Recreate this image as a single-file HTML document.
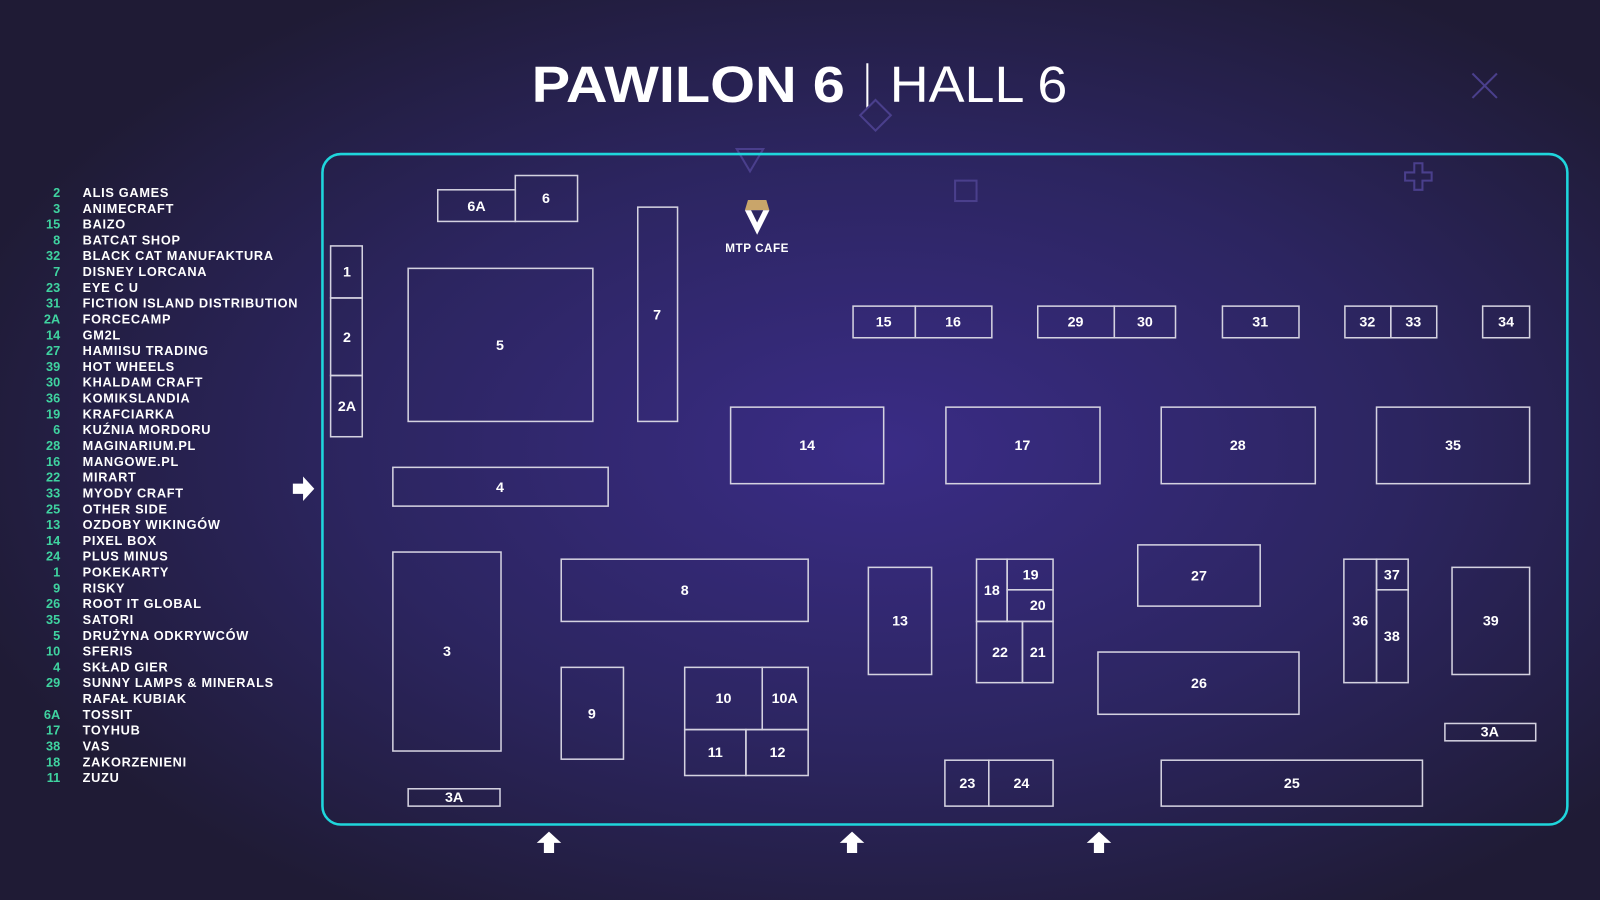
<!DOCTYPE html>
<html><head><meta charset="utf-8"><style>
html,body{margin:0;padding:0;width:1600px;height:900px;overflow:hidden;background:#221d3a}
svg{display:block}
text{font-family:"Liberation Sans",sans-serif}
</style></head><body>
<svg width="1600" height="900" viewBox="0 0 1568 882" xmlns="http://www.w3.org/2000/svg">
<defs>
<radialGradient id="bg" cx="0.55" cy="0.5" r="0.6">
<stop offset="0" stop-color="#3a2c86"/>
<stop offset="0.55" stop-color="#2c2560"/>
<stop offset="1" stop-color="#1f1b35"/>
</radialGradient>
</defs>
<rect width="1568" height="882" fill="url(#bg)"/>
<!-- title -->
<text x="521" y="100" font-size="50" font-weight="bold" fill="#fff" textLength="307" lengthAdjust="spacingAndGlyphs">PAWILON 6</text>
<line x1="850" y1="62" x2="850" y2="106" stroke="#fff" stroke-width="2"/>
<text x="872" y="100" font-size="50" fill="#fff" textLength="174" lengthAdjust="spacingAndGlyphs">HALL 6</text>
<!-- decorations -->
<g fill="none" stroke="#4a3f8c" stroke-width="2">
<polygon points="722,146 748,146 735,168"/>
<polygon points="858,98 873,113 858,128 843,113"/>
<rect x="936" y="177" width="21" height="20"/>
<path d="M1386,160h8v9h9v8h-9v9h-8v-9h-9v-8h9z"/>
<path d="M1443,72l24,24M1467,72l-24,24"/>
</g>
<!-- border -->
<rect x="316" y="151" width="1220" height="657" rx="18" fill="none" stroke="#1fd6dc" stroke-width="2.5"/>
<!-- legend -->
<g font-size="12.5" font-weight="bold">
<g fill="#3fd3a0" text-anchor="end">
<text x="59" y="193">2</text><text x="59" y="208.5">3</text><text x="59" y="224">15</text><text x="59" y="239.5">8</text><text x="59" y="255">32</text><text x="59" y="270.5">7</text><text x="59" y="286">23</text><text x="59" y="301.5">31</text><text x="59" y="317">2A</text><text x="59" y="332.5">14</text><text x="59" y="348">27</text><text x="59" y="363.5">39</text><text x="59" y="379">30</text><text x="59" y="394.5">36</text><text x="59" y="410">19</text><text x="59" y="425.5">6</text><text x="59" y="441">28</text><text x="59" y="456.5">16</text><text x="59" y="472">22</text><text x="59" y="487.5">33</text><text x="59" y="503">25</text><text x="59" y="518.5">13</text><text x="59" y="534">14</text><text x="59" y="549.5">24</text><text x="59" y="565">1</text><text x="59" y="580.5">9</text><text x="59" y="596">26</text><text x="59" y="611.5">35</text><text x="59" y="627">5</text><text x="59" y="642.5">10</text><text x="59" y="658">4</text><text x="59" y="673.5">29</text><text x="59" y="704.5">6A</text><text x="59" y="720">17</text><text x="59" y="735.5">38</text><text x="59" y="751">18</text><text x="59" y="766.5">11</text>
</g>
<g fill="#fff" letter-spacing="0.7">
<text x="81" y="193">ALIS GAMES</text><text x="81" y="208.5">ANIMECRAFT</text><text x="81" y="224">BAIZO</text><text x="81" y="239.5">BATCAT SHOP</text><text x="81" y="255">BLACK CAT MANUFAKTURA</text><text x="81" y="270.5">DISNEY LORCANA</text><text x="81" y="286">EYE C U</text><text x="81" y="301.5">FICTION ISLAND DISTRIBUTION</text><text x="81" y="317">FORCECAMP</text><text x="81" y="332.5">GM2L</text><text x="81" y="348">HAMIISU TRADING</text><text x="81" y="363.5">HOT WHEELS</text><text x="81" y="379">KHALDAM CRAFT</text><text x="81" y="394.5">KOMIKSLANDIA</text><text x="81" y="410">KRAFCIARKA</text><text x="81" y="425.5">KUŹNIA MORDORU</text><text x="81" y="441">MAGINARIUM.PL</text><text x="81" y="456.5">MANGOWE.PL</text><text x="81" y="472">MIRART</text><text x="81" y="487.5">MYODY CRAFT</text><text x="81" y="503">OTHER SIDE</text><text x="81" y="518.5">OZDOBY WIKINGÓW</text><text x="81" y="534">PIXEL BOX</text><text x="81" y="549.5">PLUS MINUS</text><text x="81" y="565">POKEKARTY</text><text x="81" y="580.5">RISKY</text><text x="81" y="596">ROOT IT GLOBAL</text><text x="81" y="611.5">SATORI</text><text x="81" y="627">DRUŻYNA ODKRYWCÓW</text><text x="81" y="642.5">SFERIS</text><text x="81" y="658">SKŁAD GIER</text><text x="81" y="673.5">SUNNY LAMPS &amp; MINERALS</text><text x="81" y="689">RAFAŁ KUBIAK</text><text x="81" y="704.5">TOSSIT</text><text x="81" y="720">TOYHUB</text><text x="81" y="735.5">VAS</text><text x="81" y="751">ZAKORZENIENI</text><text x="81" y="766.5">ZUZU</text>
</g>
</g>
<!-- booths -->
<g fill="none" stroke="#d4d2e0" stroke-width="1.5">
<rect x="429" y="186" width="76" height="31"/><rect x="505" y="172" width="61" height="45"/>
<rect x="324" y="241" width="31" height="51"/><rect x="324" y="292" width="31" height="76"/><rect x="324" y="368" width="31" height="60"/>
<rect x="400" y="263" width="181" height="150"/>
<rect x="625" y="203" width="39" height="210"/>
<rect x="385" y="458" width="211" height="38"/>
<rect x="385" y="541" width="106" height="195"/>
<rect x="400" y="773" width="90" height="17"/>
<rect x="550" y="548" width="242" height="61"/>
<rect x="550" y="654" width="61" height="90"/>
<rect x="671" y="654" width="76" height="61"/><rect x="747" y="654" width="45" height="61"/><rect x="671" y="715" width="60" height="45"/><rect x="731" y="715" width="61" height="45"/>
<rect x="851" y="556" width="62" height="105"/>
<rect x="957" y="548" width="30" height="61"/><rect x="987" y="548" width="45" height="30"/><rect x="987" y="578" width="45" height="31"/><rect x="957" y="609" width="45" height="60"/><rect x="1002" y="609" width="30" height="60"/>
<rect x="926" y="745" width="43" height="45"/><rect x="969" y="745" width="63" height="45"/>
<rect x="716" y="399" width="150" height="75"/><rect x="927" y="399" width="151" height="75"/><rect x="1138" y="399" width="151" height="75"/><rect x="1349" y="399" width="150" height="75"/>
<rect x="836" y="300" width="61" height="31"/><rect x="897" y="300" width="75" height="31"/><rect x="1017" y="300" width="75" height="31"/><rect x="1092" y="300" width="60" height="31"/><rect x="1198" y="300" width="75" height="31"/><rect x="1318" y="300" width="45" height="31"/><rect x="1363" y="300" width="45" height="31"/><rect x="1453" y="300" width="46" height="31"/>
<rect x="1115" y="534" width="120" height="60"/><rect x="1076" y="639" width="197" height="61"/><rect x="1138" y="745" width="256" height="45"/>
<rect x="1317" y="548" width="32" height="121"/><rect x="1349" y="548" width="31" height="30"/><rect x="1349" y="578" width="31" height="91"/>
<rect x="1423" y="556" width="76" height="105"/>
<rect x="1416" y="709" width="89" height="17"/>
</g>
<g fill="#fff" font-size="14" font-weight="bold" text-anchor="middle">
<text x="467" y="207">6A</text><text x="535" y="199">6</text>
<text x="340" y="271">1</text><text x="340" y="335">2</text><text x="340" y="403">2A</text>
<text x="490" y="343">5</text><text x="644" y="313">7</text><text x="490" y="482">4</text><text x="438" y="643">3</text><text x="445" y="786">3A</text>
<text x="671" y="583">8</text><text x="580" y="704">9</text>
<text x="709" y="689">10</text><text x="769" y="689">10A</text><text x="701" y="742">11</text><text x="762" y="742">12</text>
<text x="882" y="613">13</text>
<text x="972" y="583">18</text><text x="1010" y="568">19</text><text x="1017" y="598">20</text><text x="980" y="644">22</text><text x="1017" y="644">21</text>
<text x="948" y="772">23</text><text x="1001" y="772">24</text>
<text x="791" y="441">14</text><text x="1002" y="441">17</text><text x="1213" y="441">28</text><text x="1424" y="441">35</text>
<text x="866" y="320">15</text><text x="934" y="320">16</text><text x="1054" y="320">29</text><text x="1122" y="320">30</text><text x="1235" y="320">31</text><text x="1340" y="320">32</text><text x="1385" y="320">33</text><text x="1476" y="320">34</text>
<text x="1175" y="569">27</text><text x="1175" y="674">26</text><text x="1266" y="772">25</text>
<text x="1333" y="613">36</text><text x="1364" y="568">37</text><text x="1364" y="628">38</text>
<text x="1461" y="613">39</text><text x="1460" y="722">3A</text>
</g>
<!-- MTP cafe -->
<path d="M733,196h18l3,10h-24z" fill="#c9a56a"/>
<path d="M730,206h24l-12,24z" fill="#fff"/>
<path d="M736,206l6,12 6,-12" fill="#2c2560"/>
<text x="742" y="247" fill="#fff" font-size="11.5" font-weight="bold" text-anchor="middle" letter-spacing="0.5">MTP CAFE</text>
<!-- arrows -->
<g fill="#fff">
<path d="M287,474h10v-7l11,12-11,12v-7h-10z"/>
<path d="M533,836v-10h-7l12,-11 12,11h-7v10z"/>
<path d="M830,836v-10h-7l12,-11 12,11h-7v10z"/>
<path d="M1072,836v-10h-7l12,-11 12,11h-7v10z"/>
</g>
</svg>
</body></html>
